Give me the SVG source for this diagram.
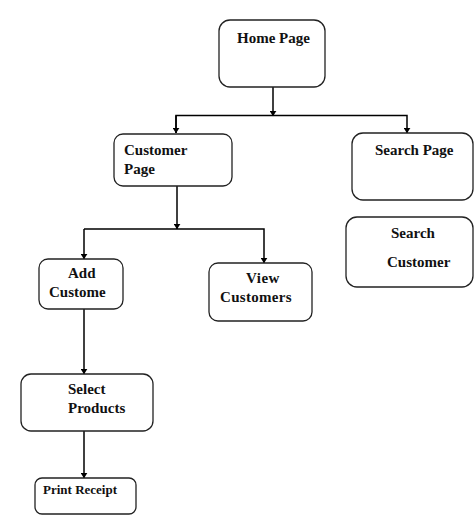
<svg xmlns="http://www.w3.org/2000/svg" width="474" height="515" viewBox="0 0 474 515">
<defs>
<marker id="ah" viewBox="0 0 8 10" refX="7.5" refY="5" markerWidth="6" markerHeight="7" orient="auto" markerUnits="userSpaceOnUse">
<path d="M0,0 L8,5 L0,10 Z" fill="#000"/>
</marker>
</defs>
<style>
.box{fill:#fff;stroke:#222;stroke-width:1.3}
.t{font-family:"Liberation Serif","Times New Roman",serif;font-weight:bold;font-size:15px;fill:#111}
.s{font-size:13px}
.c{stroke:#000;stroke-width:1.5;fill:none}
</style>
<rect width="474" height="515" fill="#fff"/>
<g id="connectors">
<path class="c" d="M273,87 V116" marker-end="url(#ah)"/>
<path class="c" d="M176,133 V115.5 H407 V133" marker-end="url(#ah)"/>
<path class="c" d="M176,115.5 V133" marker-end="url(#ah)"/>
<path class="c" d="M177,186 V229" marker-end="url(#ah)"/>
<path class="c" d="M84,229 H264 V263" marker-end="url(#ah)"/>
<path class="c" d="M84,229 V259" marker-end="url(#ah)"/>
<path class="c" d="M84,309 V374" marker-end="url(#ah)"/>
<path class="c" d="M84,431 V478" marker-end="url(#ah)"/>
</g>
<g id="home">
<rect class="box" x="219" y="20" width="106" height="67" rx="11"/>
<text class="t" x="237" y="43">Home Page</text>
</g>
<g id="customer-page">
<rect class="box" x="114" y="134" width="118" height="52" rx="9"/>
<text class="t" x="124" y="155">Customer</text>
<text class="t" x="124" y="174">Page</text>
</g>
<g id="search-page">
<rect class="box" x="352" y="133" width="121" height="67" rx="11"/>
<text class="t" x="375" y="155">Search Page</text>
</g>
<g id="search-customer">
<rect class="box" x="346" y="217" width="127" height="70" rx="11"/>
<text class="t" x="391" y="238">Search</text>
<text class="t" x="387" y="267">Customer</text>
</g>
<g id="add-custome">
<rect class="box" x="39" y="259" width="84" height="50" rx="9"/>
<text class="t" x="68" y="278">Add</text>
<text class="t" x="49" y="297">Custome</text>
</g>
<g id="view-customers">
<rect class="box" x="209" y="263" width="103" height="58" rx="9"/>
<text class="t" x="246" y="283" letter-spacing="0.5">View</text>
<text class="t" x="220" y="302" letter-spacing="0.3">Customers</text>
</g>
<g id="select-products">
<rect class="box" x="21" y="374" width="132" height="57" rx="10"/>
<text class="t" x="68" y="394">Select</text>
<text class="t" x="68" y="413">Products</text>
</g>
<g id="print-receipt">
<rect class="box" x="35" y="478" width="101" height="36" rx="7"/>
<text class="t s" x="43" y="494">Print Receipt</text>
</g>
</svg>
